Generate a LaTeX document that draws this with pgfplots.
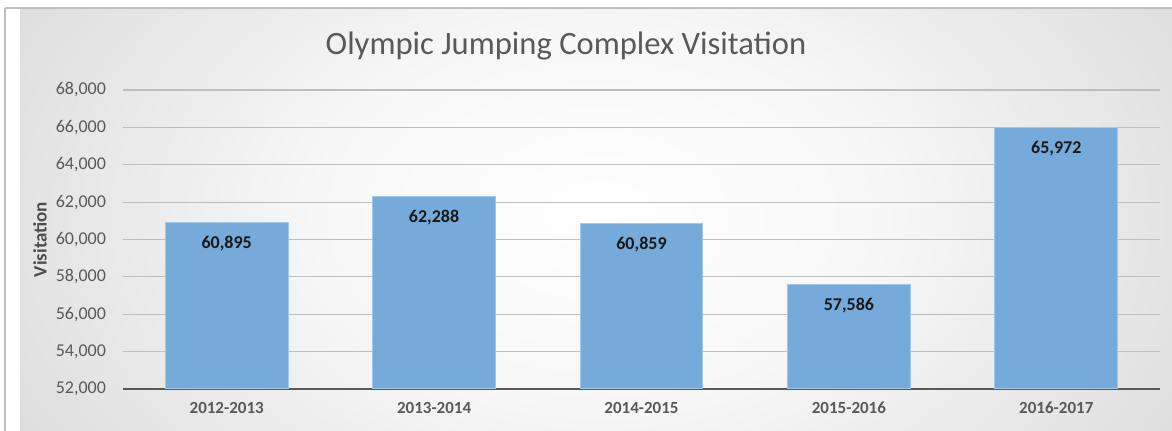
\documentclass[border=0pt]{standalone}
\usepackage{pgfplots}
\pgfplotsset{compat=1.18}
\usepackage{fontspec}
\setmainfont{Carlito}

\definecolor{barblue}{RGB}{117,170,219}
\definecolor{baredge}{RGB}{160,200,235}
\definecolor{txtgray}{RGB}{89,89,89}
\definecolor{gridgray}{RGB}{190,190,190}

\pgfdeclareradialshading{chartbg}{\pgfpoint{0bp}{0bp}}{%
    color(0bp)=(white); color(12bp)=(white!97!black);
    color(32bp)=(white!85!black); color(50bp)=(white!74!black);
    color(75bp)=(white!68!black)}

\begin{document}
\begin{tikzpicture}[x=0.5pt,y=0.5pt]
    % picture is 1172 x 431 "pixels"
    \useasboundingbox (0,0) rectangle (1172,431);
    \fill[white] (0,0) rectangle (1172,431);
    \begin{scope}
        \clip (5,0) rectangle (1172,423);
        \shade[shading=chartbg] (20,-170) rectangle (1180,600);
    \end{scope}
    \draw[black!25, line width=0.6pt] (5,423) -- (1172,423);
    \draw[black!25, line width=0.6pt] (5,0) -- (5,423);

    \node[anchor=base, text=txtgray, font=\fontsize{16.3}{19}\selectfont]
        at (566,376) {Olympic Jumping Complex Visitation};

    \begin{axis}[
        at={(61.5pt,21pt)}, anchor=south west,
        scale only axis,
        width=518.5pt, height=149.5pt,
        xmin=-0.5, xmax=4.5,
        ymin=52000, ymax=68000,
        ytick={52000,54000,...,68000},
        scaled y ticks=false,
        xtick=data,
        xticklabels={2012-2013,2013-2014,2014-2015,2015-2016,2016-2017},
        axis x line*=bottom,
        axis y line*=left,
        y axis line style={draw=none},
        x axis line style={txtgray, line width=1.1pt},
        major tick length=0pt,
        ymajorgrids,
        grid style={gridgray, line width=0.6pt},
        /pgf/number format/assume math mode=true,
        /pgf/number format/.cd, 1000 sep={,}, fixed, /pgfplots/.cd,
        yticklabel style={text=txtgray, font=\fontsize{9}{10}\selectfont, xshift=-5pt},
        xticklabel style={text=txtgray, font=\bfseries\fontsize{8.5}{10}\selectfont, yshift=-3pt},
        ylabel={Visitation},
        ylabel style={at={(axis description cs:-0.08,0.5)}, anchor=center,
            text=black!70, font=\bfseries\fontsize{9.5}{10}\selectfont},
        ybar, bar width=0.593,
        nodes near coords,
        nodes near coords style={anchor=north, yshift=-3pt, text=black!90,
            font=\bfseries\fontsize{9}{10}\selectfont,
            /pgf/number format/.cd, 1000 sep={,}, fixed, assume math mode=true},
        clip=false,
    ]
    \addplot[fill=barblue, draw=baredge, line width=0.5pt] coordinates {
        (0, 60895)
        (1, 62288)
        (2, 60859)
        (3, 57586)
        (4, 65972)
    };
    \end{axis}
\end{tikzpicture}
\end{document}
